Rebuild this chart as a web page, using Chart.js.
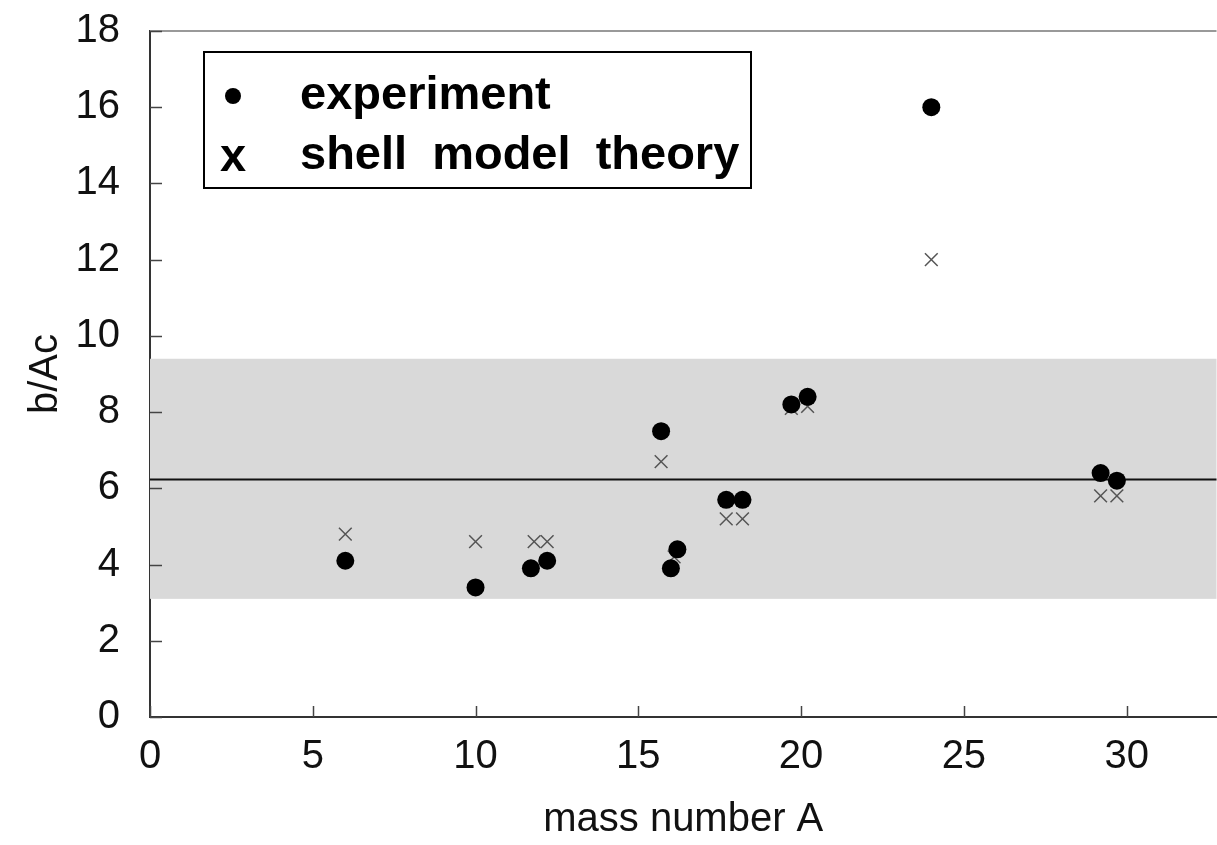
<!DOCTYPE html>
<html>
<head>
<meta charset="utf-8">
<script src="https://cdn.jsdelivr.net/npm/chart.js@4/dist/chart.umd.min.js"></script>
<style>
  html, body { margin: 0; padding: 0; background: #fff; overflow: hidden; }
  #wrap { width: 1227px; height: 845px; position: relative; }
</style>
</head>
<body>
<div id="wrap"><canvas id="chart"></canvas></div>
<script>
// experiment (filled dots)
const expA = [6, 10, 11.7, 12.2, 15.7, 16.0, 16.2, 17.7, 18.2, 19.7, 20.2, 24, 29.2, 29.7];
const expB = [4.1, 3.4, 3.9, 4.1, 7.5, 3.9, 4.4, 5.7, 5.7, 8.2, 8.4, 16.0, 6.4, 6.2];
// shell model theory (crosses)
const theoA = [6, 10, 11.8, 12.2, 15.7, 16.1, 17.7, 18.2, 19.7, 20.2, 24, 29.2, 29.7];
const theoB = [4.8, 4.6, 4.6, 4.6, 6.7, 4.2, 5.2, 5.2, 8.1, 8.15, 12.0, 5.8, 5.8];
// mean value and its band
const meanValue = 6.23;
const bandLow = 3.1;
const bandHigh = 9.4;
const legendLabels = ['experiment', 'shell model theory'];

const FONT = "'Liberation Sans', Arial, sans-serif";

const toPoints = (xs, ys) => xs.map((x, i) => ({x: x, y: ys[i]}));

// gray band + mean line behind the markers
const bandPlugin = {
    id: 'band',
    beforeDatasetsDraw(chart) {
        const {ctx, chartArea: a, scales: {y}} = chart;
        ctx.save();
        ctx.fillStyle = '#d9d9d9';
        const yt = y.getPixelForValue(bandHigh), yb = y.getPixelForValue(bandLow);
        ctx.fillRect(a.left, yt, a.right - a.left, yb - yt);
        const ym = y.getPixelForValue(meanValue);
        ctx.strokeStyle = '#111';
        ctx.lineWidth = 2;
        ctx.beginPath();
        ctx.moveTo(a.left, ym);
        ctx.lineTo(a.right, ym);
        ctx.stroke();
        ctx.restore();
    }
};

// inward tick marks, top frame line and the boxed legend
const framePlugin = {
    id: 'frame',
    afterDraw(chart) {
        const {ctx, chartArea: a, scales: {x, y}} = chart;
        ctx.save();
        ctx.strokeStyle = '#999';
        ctx.lineWidth = 2;
        ctx.beginPath();
        ctx.moveTo(a.left, a.top);
        ctx.lineTo(a.right, a.top);
        ctx.stroke();

        ctx.strokeStyle = '#444';
        ctx.lineWidth = 1.5;
        y.ticks.forEach(t => {
            const py = Math.round(y.getPixelForValue(t.value)) + 0.5;
            ctx.beginPath();
            ctx.moveTo(a.left, py);
            ctx.lineTo(a.left + 12, py);
            ctx.stroke();
        });
        x.ticks.forEach(t => {
            const px = Math.round(x.getPixelForValue(t.value)) + 0.5;
            ctx.beginPath();
            ctx.moveTo(px, a.bottom);
            ctx.lineTo(px, a.bottom - 11);
            ctx.stroke();
        });

        // legend box
        const bx = a.left + 54, by = a.top + 21, bw = 547, bh = 136;
        ctx.fillStyle = '#fff';
        ctx.fillRect(bx, by, bw, bh);
        ctx.strokeStyle = '#000';
        ctx.lineWidth = 2;
        ctx.strokeRect(bx, by, bw, bh);
        ctx.fillStyle = '#000';
        ctx.beginPath();
        ctx.arc(bx + 29, by + 44, 8, 0, Math.PI * 2);
        ctx.fill();
        ctx.font = 'bold 47px ' + FONT;
        ctx.textBaseline = 'alphabetic';
        ctx.textAlign = 'left';
        ctx.fillText(legendLabels[0], bx + 96, by + 57);
        ctx.fillText('x', bx + 16, by + 119);
        ctx.wordSpacing = '12px';
        ctx.fillText(legendLabels[1], bx + 96, by + 117);
        ctx.restore();
    }
};

new Chart(document.getElementById('chart'), {
    type: 'scatter',
    data: {
        datasets: [{
            label: legendLabels[0],
            data: toPoints(expA, expB),
            pointStyle: 'circle',
            pointRadius: 9,
            backgroundColor: '#000',
            borderColor: '#000',
            borderWidth: 0
        }, {
            label: legendLabels[1],
            data: toPoints(theoA, theoB),
            pointStyle: 'crossRot',
            pointRadius: 9,
            borderColor: '#555',
            borderWidth: 1.5
        }]
    },
    options: {
        responsive: true,
        maintainAspectRatio: false,
        animation: false,
        layout: { padding: { top: 31, right: 0, left: 0, bottom: 0 } },
        plugins: {
            legend: { display: false },
            tooltip: { enabled: false }
        },
        scales: {
            x: {
                type: 'linear',
                min: 0,
                max: 32.76,
                afterFit: s => { s.height = 128; s.paddingLeft = 0; s.paddingRight = 0; },
                grid: { drawOnChartArea: false, drawTicks: false },
                border: { display: true, color: '#333', width: 2 },
                ticks: {
                    stepSize: 5,
                    includeBounds: false,
                    padding: 16,
                    color: '#111',
                    font: { family: FONT, size: 40 }
                },
                title: {
                    display: true,
                    text: 'mass number A',
                    color: '#111',
                    font: { family: FONT, size: 40 },
                    padding: { top: 0, bottom: 1 }
                }
            },
            y: {
                min: 0,
                max: 18,
                afterFit: s => { s.width = 150; s.paddingTop = 0; s.paddingBottom = 0; },
                grid: { drawOnChartArea: false, drawTicks: false },
                border: { display: true, color: '#333', width: 2 },
                ticks: {
                    stepSize: 2,
                    padding: 30,
                    color: '#111',
                    font: { family: FONT, size: 40 }
                },
                title: {
                    display: true,
                    text: 'b/Ac',
                    color: '#111',
                    font: { family: FONT, size: 40 },
                    padding: { top: 22, bottom: 0 }
                }
            }
        }
    },
    plugins: [bandPlugin, framePlugin]
});
</script>
</body>
</html>
